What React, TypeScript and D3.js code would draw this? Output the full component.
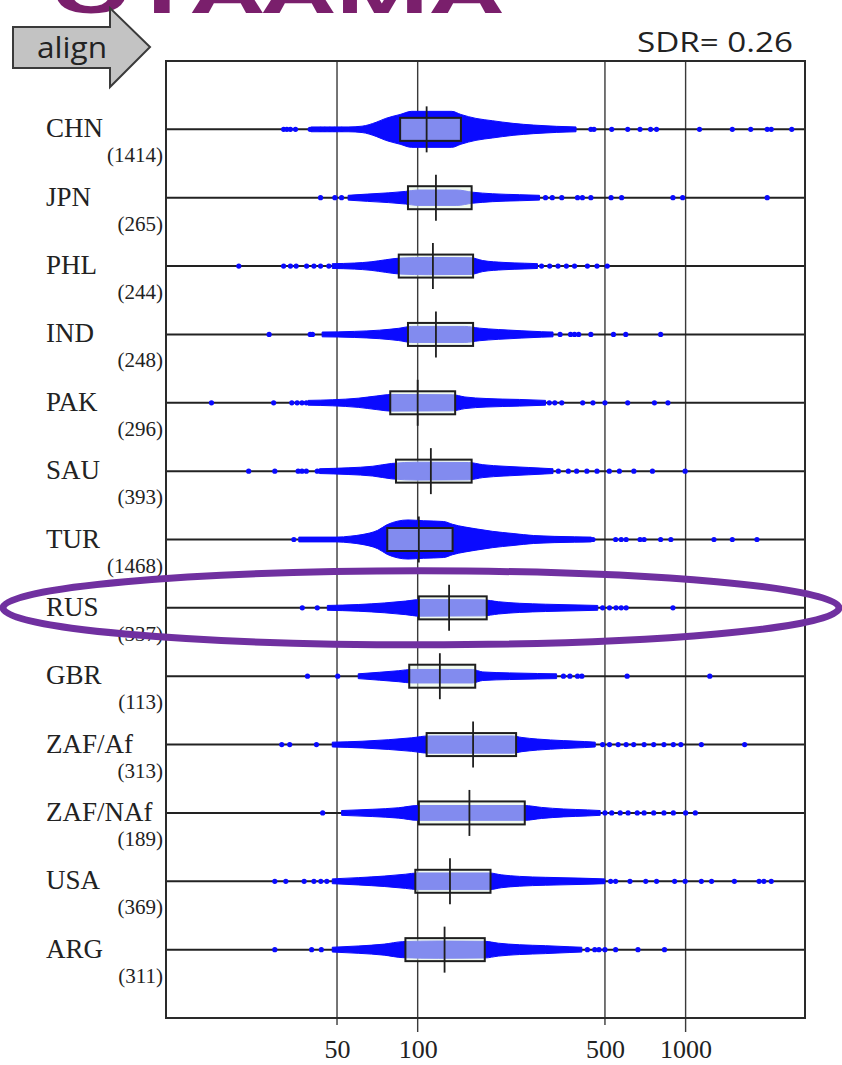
import React, { useRef, useEffect } from "react";
import * as d3 from "d3";

// rows, top to bottom
const countries = ["CHN", "JPN", "PHL", "IND", "PAK", "SAU", "TUR", "RUS", "GBR", "ZAF/Af", "ZAF/NAf", "USA", "ARG"];
const counts = [1414, 265, 244, 248, 296, 393, 1468, 337, 113, 313, 189, 369, 311];

// box plot stats per row
const q1s = [86, 92, 85, 92, 79, 83, 77, 101, 93, 108, 101, 98, 90];
const medians = [108, 117, 114, 117, 100, 112, 101, 131, 121, 161, 156, 132, 126];
const q3s = [145, 159, 161, 161, 138, 159, 135, 181, 164, 233, 251, 187, 178];

// dense part of the dot cloud: [value, relative thickness]
const clouds: [number, number][][] = [
  [[40, 0], [55, 0], [62, 0.05], [70, 0.3], [76, 0.55], [86, 0.8], [95, 1], [134, 1], [145, 0.8], [165, 0.55], [190, 0.4], [227, 0.23], [271, 0.12], [330, 0.04], [390, 0]],
  [[55, 0], [65, 0.08], [78, 0.16], [90, 0.25], [100, 0.34], [140, 0.34], [160, 0.2], [190, 0.1], [240, 0.04], [285, 0]],
  [[48, 0], [58, 0.04], [67, 0.12], [76, 0.25], [86, 0.36], [110, 0.4], [158, 0.38], [175, 0.2], [210, 0.08], [250, 0.03], [280, 0]],
  [[44, 0], [58, 0.04], [72, 0.12], [85, 0.24], [95, 0.36], [150, 0.36], [170, 0.25], [200, 0.16], [245, 0.08], [290, 0.02], [320, 0]],
  [[39, 0], [48, 0.04], [60, 0.14], [70, 0.28], [80, 0.38], [135, 0.36], [150, 0.22], [180, 0.12], [240, 0.06], [300, 0]],
  [[43, 0], [55, 0.06], [68, 0.16], [80, 0.34], [100, 0.42], [155, 0.4], [175, 0.26], [210, 0.16], [260, 0.08], [320, 0]],
  [[36, 0], [50, 0], [56, 0.06], [62, 0.16], [71, 0.44], [77, 0.8], [84, 1.02], [92, 1.1], [105, 1.05], [125, 1], [135, 0.82], [165, 0.53], [190, 0.37], [227, 0.23], [271, 0.1], [385, 0.02], [445, 0]],
  [[46, 0], [60, 0.06], [75, 0.16], [90, 0.28], [102, 0.38], [175, 0.36], [200, 0.24], [240, 0.14], [300, 0.08], [400, 0.03], [470, 0]],
  [[60, 0], [72, 0.1], [85, 0.2], [95, 0.28], [160, 0.28], [175, 0.12], [220, 0.06], [280, 0.02], [330, 0]],
  [[48, 0], [62, 0.06], [78, 0.16], [95, 0.28], [110, 0.4], [225, 0.4], [245, 0.3], [280, 0.2], [350, 0.1], [420, 0.04], [460, 0]],
  [[52, 0], [68, 0.08], [85, 0.18], [100, 0.32], [250, 0.32], [290, 0.2], [350, 0.1], [430, 0.04], [480, 0]],
  [[48, 0], [60, 0.08], [75, 0.18], [90, 0.3], [100, 0.38], [185, 0.38], [205, 0.26], [240, 0.16], [300, 0.1], [400, 0.05], [500, 0]],
  [[48, 0], [60, 0.08], [75, 0.2], [88, 0.36], [120, 0.4], [178, 0.38], [200, 0.26], [240, 0.16], [300, 0.1], [370, 0.03], [410, 0]],
];

// single dots outside the cloud
const tails: number[][] = [
  [31.6, 32.5, 33.5, 35, 39.7, 43.4, 45, 47, 49, 52, 443, 455, 530, 608, 676, 740, 779, 1127, 1494, 1750, 2016, 2088, 2490],
  [43.4, 49.1, 52, 300, 318, 345, 395, 412, 443, 527, 577, 897, 975, 2016],
  [21.5, 31.6, 33.5, 35.2, 38.5, 41, 43.4, 46.6, 290, 311, 334, 359, 385, 430, 467, 510],
  [27.9, 39.7, 40.5, 340, 372, 385, 399, 443, 538, 598, 807],
  [17.0, 29.0, 33.9, 35.5, 37, 38.4, 310, 325, 345, 413, 451, 500, 608, 765, 859],
  [23.4, 29.3, 35.8, 37, 38.4, 42.2, 335, 365, 392, 428, 467, 519, 566, 641, 752, 996],
  [34.5, 451, 548, 575, 600, 676, 700, 807, 881, 1276, 1494, 1846],
  [37.1, 42.2, 490, 520, 550, 575, 600, 897],
  [38.8, 50.3, 350, 370, 395, 410, 605, 1231],
  [31.1, 33.3, 41.9, 490, 520, 560, 600, 640, 700, 760, 830, 900, 960, 1145, 1661],
  [44.2, 500, 530, 570, 610, 660, 700, 760, 830, 900, 1000, 1087],
  [29.3, 32.2, 37.7, 41, 43.5, 45.8, 525, 548, 620, 710, 779, 910, 996, 1145, 1250, 1521, 1880, 1960, 2088],
  [29.3, 40.2, 43.7, 430, 458, 475, 500, 548, 664, 834],
];

const tickValues = [50, 100, 500, 1000];
const longTicks = [100, 1000];
const sdrLabel = "SDR= 0.26";
const alignLabel = "align";
const titleText = "OTAAMA";

const SERIF = "'Liberation Serif', 'Times New Roman', serif";
const SANS = "'Open Sans', 'Liberation Sans', sans-serif";
const BLUE = "#0a0aff";

export default function App() {
  const svgRef = useRef<SVGSVGElement>(null);

  useEffect(() => {
    const svg = d3.select(svgRef.current);
    svg.selectAll("*").remove();

    const left = 166, right = 805, top = 61, bottom = 1018;

    const x = d3.scaleLog().domain([11.5, 2790]).range([left, right]);
    const y = d3.scalePoint<string>().domain(countries).range([top, bottom]).padding(1);
    const thick = d3.scaleLinear().domain([0, 1]).range([2.4, 18]);

    svg.append("rect").attr("width", 842).attr("height", 1065).attr("fill", "#fff");

    // partly visible title at the very top
    svg.append("text")
      .attr("x", 50).attr("y", 13)
      .attr("textLength", 452).attr("lengthAdjust", "spacingAndGlyphs")
      .style("font-family", SANS).style("font-weight", 700).style("font-size", "58px")
      .attr("fill", "#7a1f6c")
      .text(titleText);

    // vertical grid lines + ticks below the frame
    svg.append("g").selectAll("line")
      .data(tickValues)
      .join("line")
      .attr("x1", d => x(d)).attr("x2", d => x(d))
      .attr("y1", top).attr("y2", d => bottom + (longTicks.includes(d) ? 14 : 7))
      .attr("stroke", "#3a3a3a").attr("stroke-width", 1.4);

    // row lines
    svg.append("g").selectAll("line")
      .data(countries)
      .join("line")
      .attr("x1", left).attr("x2", right)
      .attr("y1", d => y(d)!).attr("y2", d => y(d)!)
      .attr("stroke", "#222").attr("stroke-width", 2);

    // clouds
    countries.forEach((c, i) => {
      const cy = y(c)!;
      const area = d3.area<[number, number]>()
        .x(d => x(d[0]))
        .y0(d => cy + thick(d[1]))
        .y1(d => cy - thick(d[1]))
        .curve(d3.curveMonotoneX);
      svg.append("path")
        .datum(clouds[i])
        .attr("d", area)
        .attr("fill", BLUE)
        .attr("stroke", BLUE)
        .attr("stroke-width", 1)
        .attr("stroke-linejoin", "round");

      svg.append("g").selectAll("circle")
        .data(tails[i])
        .join("circle")
        .attr("cx", d => x(d)).attr("cy", cy).attr("r", 2.6)
        .attr("fill", BLUE);
    });

    // boxes
    const boxH = 11.5;
    svg.append("g").selectAll("rect")
      .data(countries)
      .join("rect")
      .attr("x", (d, i) => x(q1s[i]))
      .attr("y", d => y(d)! - boxH)
      .attr("width", (d, i) => x(q3s[i]) - x(q1s[i]))
      .attr("height", boxH * 2)
      .attr("fill", "#e6f6e2").attr("fill-opacity", 0.55)
      .attr("stroke", "#1e1e1e").attr("stroke-width", 2);

    svg.append("g").selectAll("line")
      .data(countries)
      .join("line")
      .attr("x1", (d, i) => x(medians[i])).attr("x2", (d, i) => x(medians[i]))
      .attr("y1", d => y(d)! - 23).attr("y2", d => y(d)! + 23)
      .attr("stroke", "#1e1e1e").attr("stroke-width", 1.8);

    // frame
    svg.append("rect")
      .attr("x", left).attr("y", top)
      .attr("width", right - left).attr("height", bottom - top)
      .attr("fill", "none").attr("stroke", "#2a2a2a").attr("stroke-width", 2);

    // x axis labels
    const axis = d3.axisBottom(x)
      .tickValues(tickValues)
      .tickFormat(d3.format("d"))
      .tickSizeInner(0).tickSizeOuter(0)
      .tickPadding(22);
    const ax = svg.append("g").attr("transform", `translate(0,${bottom})`).call(axis);
    ax.select(".domain").remove();
    ax.selectAll("text")
      .style("font-family", SERIF).style("font-size", "26px").attr("fill", "#222");

    // row labels
    svg.append("g").selectAll("text")
      .data(countries)
      .join("text")
      .attr("x", 46).attr("y", d => y(d)! + 8)
      .style("font-family", SERIF).style("font-size", "27px").attr("fill", "#222")
      .text(d => d);

    svg.append("g").selectAll("text")
      .data(counts)
      .join("text")
      .attr("x", 163).attr("y", (d, i) => y(countries[i])! + 33)
      .attr("text-anchor", "end")
      .style("font-family", SERIF).style("font-size", "21px").attr("fill", "#222")
      .text(d => `(${d})`);

    // SDR label
    svg.append("text")
      .attr("x", 793).attr("y", 52)
      .attr("text-anchor", "end")
      .attr("textLength", 156).attr("lengthAdjust", "spacingAndGlyphs")
      .style("font-family", SANS).style("font-size", "27px").attr("fill", "#222")
      .text(sdrLabel);

    // align arrow
    const arrow = svg.append("g");
    arrow.append("path")
      .attr("d", "M13,27 L110,27 L110,8 L150,47 L110,87 L110,68 L13,68 Z")
      .attr("fill", "#c3c3c3").attr("stroke", "#3a3a3a").attr("stroke-width", 2);
    arrow.append("text")
      .attr("x", 72).attr("y", 58)
      .attr("text-anchor", "middle")
      .attr("textLength", 70).attr("lengthAdjust", "spacingAndGlyphs")
      .style("font-family", SANS).style("font-size", "30px").attr("fill", "#222")
      .text(alignLabel);

    // highlight ring around RUS
    svg.append("ellipse")
      .attr("cx", 421).attr("cy", y("RUS")!)
      .attr("rx", 418).attr("ry", 37)
      .attr("fill", "none").attr("stroke", "#7030a0").attr("stroke-width", 7);
  }, []);

  return (
    <svg
      ref={svgRef}
      width={842}
      height={1065}
      style={{ position: "absolute", left: 0, top: 0, display: "block" }}
    />
  );
}
